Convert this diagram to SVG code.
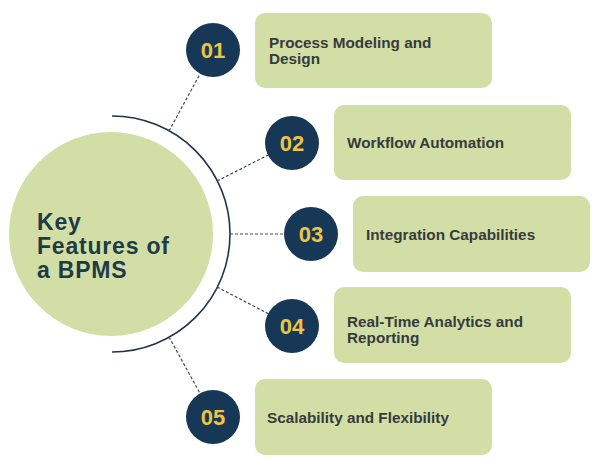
<svg xmlns="http://www.w3.org/2000/svg" width="600" height="467" viewBox="0 0 600 467">
<style>
.box{fill:#d3dea7}
.num{fill:#173756}
.numt{font-family:"Liberation Sans",Arial,sans-serif;font-weight:bold;font-size:22px;fill:#efc43e;text-anchor:middle}
.lbl{font-family:"Liberation Sans",Arial,sans-serif;font-weight:bold;font-size:15.3px;fill:#363b3b}
.title{font-family:"Liberation Sans",Arial,sans-serif;font-weight:bold;font-size:23px;letter-spacing:0.8px;fill:#1e3c46}
.dash{stroke:#3f4a55;stroke-width:1.2;stroke-dasharray:3 2;fill:none}
</style>
<rect width="600" height="467" fill="#ffffff"/>
<g id="hub">
<circle cx="111" cy="234" r="102" fill="#d3dea7"/>
<path d="M112 116 A118 118 0 0 1 112 352" fill="none" stroke="#1f3547" stroke-width="1.6"/>
<text class="title"><tspan x="37" y="230">Key</tspan><tspan x="37" y="254">Features of</tspan><tspan x="37" y="278">a BPMS</tspan></text>
</g>
<g id="connectors">
<line class="dash" x1="169" y1="131" x2="213" y2="50"/>
<line class="dash" x1="217" y1="181" x2="292" y2="143"/>
<line class="dash" x1="230" y1="234" x2="311" y2="234"/>
<line class="dash" x1="217" y1="287" x2="292" y2="326"/>
<line class="dash" x1="169" y1="337" x2="213" y2="417"/>
</g>
<g id="item1">
<rect class="box" x="255" y="13" width="237" height="75" rx="10"/>
<circle class="num" cx="213" cy="50" r="27"/>
<text class="numt" x="213" y="58">01</text>
<text class="lbl"><tspan x="269" y="48">Process Modeling and</tspan><tspan x="269" y="64">Design</tspan></text>
</g>
<g id="item2">
<rect class="box" x="334" y="105" width="237" height="75" rx="10"/>
<circle class="num" cx="292" cy="143" r="27"/>
<text class="numt" x="292" y="151">02</text>
<text class="lbl" x="347" y="148">Workflow Automation</text>
</g>
<g id="item3">
<rect class="box" x="353" y="196" width="237" height="76" rx="10"/>
<circle class="num" cx="311" cy="234" r="27"/>
<text class="numt" x="311" y="242">03</text>
<text class="lbl" x="366" y="240">Integration Capabilities</text>
</g>
<g id="item4">
<rect class="box" x="334" y="287" width="237" height="76" rx="10"/>
<circle class="num" cx="292" cy="326" r="27"/>
<text class="numt" x="292" y="334">04</text>
<text class="lbl"><tspan x="347" y="327">Real-Time Analytics and</tspan><tspan x="347" y="343">Reporting</tspan></text>
</g>
<g id="item5">
<rect class="box" x="255" y="379" width="237" height="76" rx="10"/>
<circle class="num" cx="213" cy="417" r="27"/>
<text class="numt" x="213" y="425">05</text>
<text class="lbl" x="267" y="423">Scalability and Flexibility</text>
</g>
</svg>
